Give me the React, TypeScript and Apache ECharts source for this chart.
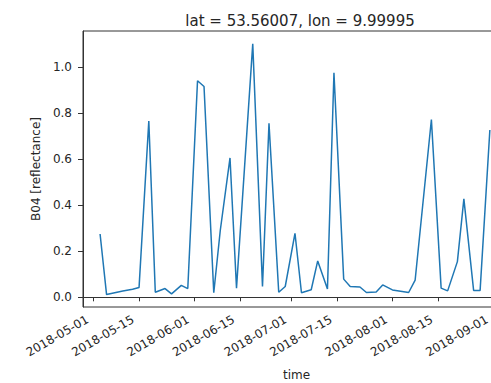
import React, { useEffect, useRef } from "react";
import * as echarts from "echarts";

const dates = [
  "2018-05-03", "2018-05-05", "2018-05-10", "2018-05-13", "2018-05-15", "2018-05-18",
  "2018-05-20", "2018-05-23", "2018-05-25", "2018-05-28", "2018-05-30", "2018-06-02",
  "2018-06-04", "2018-06-07", "2018-06-09", "2018-06-12", "2018-06-14", "2018-06-19",
  "2018-06-22", "2018-06-24", "2018-06-27", "2018-06-29", "2018-07-02", "2018-07-04",
  "2018-07-07", "2018-07-09", "2018-07-12", "2018-07-14", "2018-07-17", "2018-07-19",
  "2018-07-22", "2018-07-24", "2018-07-27", "2018-07-29", "2018-08-01", "2018-08-06",
  "2018-08-08", "2018-08-13", "2018-08-16", "2018-08-18", "2018-08-21", "2018-08-23",
  "2018-08-26", "2018-08-28", "2018-08-31",
];
const b04 = [
  0.275, 0.012, 0.027, 0.035, 0.043, 0.765,
  0.022, 0.038, 0.015, 0.052, 0.038, 0.94,
  0.915, 0.02, 0.29, 0.605, 0.04, 1.1,
  0.047, 0.755, 0.022, 0.047, 0.278, 0.02,
  0.033, 0.158, 0.036, 0.975, 0.079, 0.047,
  0.045, 0.021, 0.023, 0.054, 0.032, 0.021,
  0.075, 0.772, 0.04, 0.028, 0.155, 0.427,
  0.03, 0.03, 0.726,
];
const xTicks = [
  "2018-05-01", "2018-05-15", "2018-06-01", "2018-06-15", "2018-07-01",
  "2018-07-15", "2018-08-01", "2018-08-15", "2018-09-01",
];
const yTicks = [0, 0.2, 0.4, 0.6, 0.8, 1.0];

const title = "lat = 53.56007, lon = 9.99995";
const yName = "B04 [reflectance]";
const xName = "time";

const DAY = 86400000;
function parseUTC(s: string): number {
  const [y, m, d] = s.split("-").map(Number);
  return Date.UTC(y, m - 1, d);
}
function fmt(v: number): string {
  const d = new Date(v);
  const p = (n: number) => (n < 10 ? "0" + n : "" + n);
  return d.getUTCFullYear() + "-" + p(d.getUTCMonth() + 1) + "-" + p(d.getUTCDate());
}

export default function App() {
  const ref = useRef<HTMLDivElement>(null);
  useEffect(() => {
    if (!ref.current) return;
    const chart = echarts.init(ref.current, null, { renderer: "svg" });
    const base = parseUTC("2018-05-01");
    const textColor = "#262626";
    const font = "DejaVu Sans";
    const xTickVals = xTicks.map(parseUTC);
    chart.setOption({
      animation: false,
      textStyle: { fontFamily: font },
      title: {
        text: title,
        left: 295,
        top: 8,
        textAlign: "center",
        textStyle: { fontFamily: font, fontSize: 15, fontWeight: "normal", color: textColor },
      },
      grid: {
        left: 83,
        top: 31,
        right: -19,
        bottom: 76,
        outerBoundsMode: "none",
        containLabel: false,
        show: true,
        borderColor: "#333",
        borderWidth: 1,
        backgroundColor: "transparent",
      },
      xAxis: {
        type: "value",
        min: base - 3.26 * DAY,
        max: base + 128.2 * DAY,
        name: xName,
        nameLocation: "middle",
        nameGap: 62,
        nameTextStyle: { fontFamily: font, fontSize: 12, color: textColor },
        axisLine: { show: true, lineStyle: { color: "#333", width: 1 } },
        axisTick: {
          show: true,
          length: 4,
          lineStyle: { color: "#333" },
          customValues: xTickVals,
        },
        axisLabel: {
          rotate: 30,
          margin: 8,
          padding: [0, 7, 0, 0],
          fontFamily: font,
          fontSize: 12,
          color: textColor,
          customValues: xTickVals,
          formatter: (v: number) => fmt(v),
        },
        splitLine: { show: false },
      },
      yAxis: {
        type: "value",
        min: -0.042,
        max: 1.156,
        name: yName,
        nameLocation: "middle",
        nameGap: 37,
        nameRotate: 90,
        nameTextStyle: { fontFamily: font, fontSize: 12, color: textColor },
        axisLine: { show: true, lineStyle: { color: "#333", width: 1 } },
        axisTick: {
          show: true,
          length: 5,
          lineStyle: { color: "#333" },
          customValues: yTicks,
        },
        axisLabel: {
          margin: 11,
          fontFamily: font,
          fontSize: 12,
          color: textColor,
          customValues: yTicks,
          formatter: (v: number) => v.toFixed(1),
        },
        splitLine: { show: false },
      },
      series: [
        {
          type: "line",
          data: dates.map((d, i) => [parseUTC(d), b04[i]]),
          showSymbol: false,
          symbol: "none",
          lineStyle: { color: "#1f77b4", width: 1.5 },
          clip: true,
        },
      ],
    });
    return () => chart.dispose();
  }, []);
  return (
    <div
      ref={ref}
      style={{ position: "fixed", left: 0, top: 0, width: 491, height: 383, background: "#fff" }}
    />
  );
}
